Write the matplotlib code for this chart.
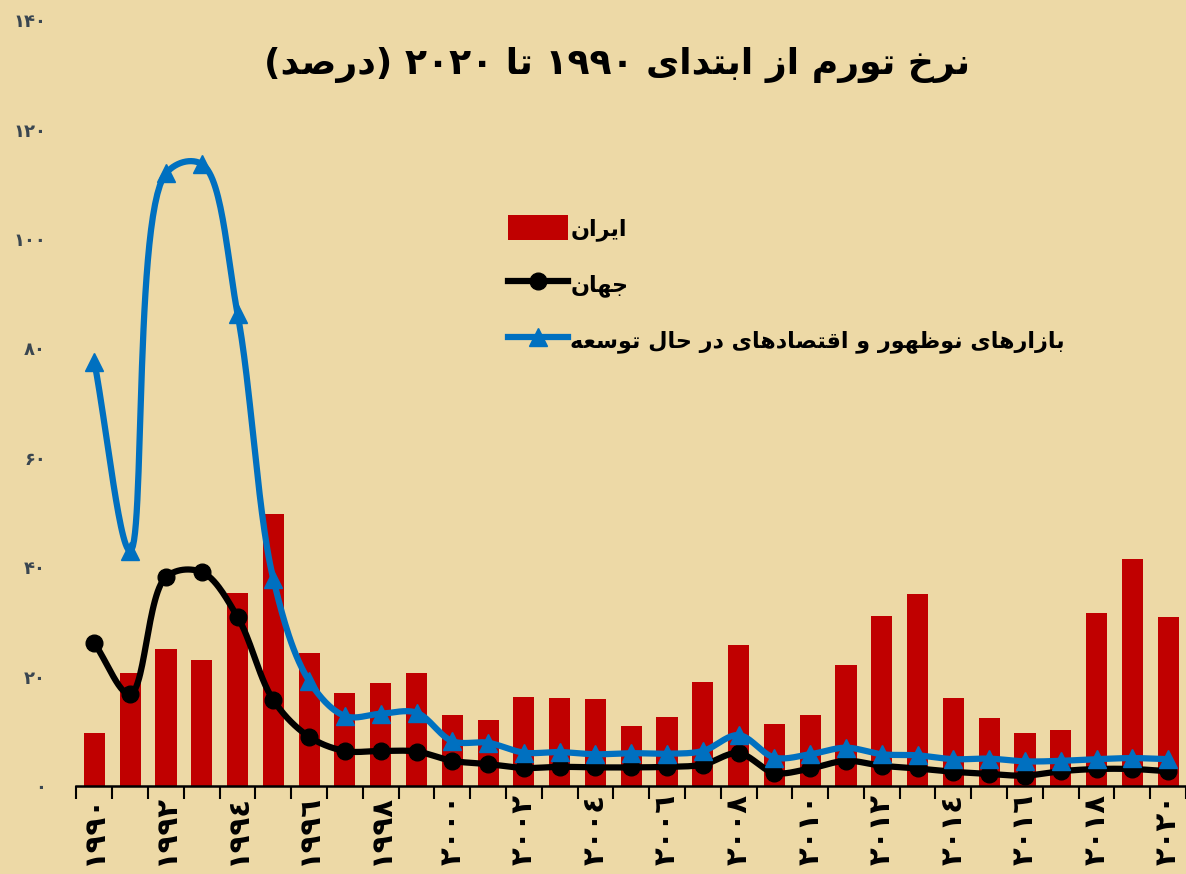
import re
import numpy as np
import matplotlib
matplotlib.use("Agg")
import matplotlib.pyplot as plt
from matplotlib.patches import Patch
from matplotlib.lines import Line2D

# data
years = list(range(1990, 2021))
iran = [9.7, 20.7, 25.0, 23.0, 35.3, 49.7, 24.3, 17.0, 18.8, 20.7,
        13.0, 12.1, 16.3, 16.1, 15.9, 11.0, 12.6, 19.0, 25.8, 11.3,
        12.9, 22.1, 31.0, 35.1, 16.1, 12.4, 9.7, 10.3, 31.6, 41.5, 30.9]
world = [26.1, 16.8, 38.2, 39.1, 30.9, 15.7, 9.0, 6.4, 6.4, 6.3,
         4.6, 4.0, 3.3, 3.5, 3.4, 3.4, 3.5, 3.9, 6.0, 2.4,
         3.2, 4.6, 3.7, 3.2, 2.6, 2.2, 1.9, 2.7, 3.1, 3.1, 2.7]
emerging = [77.5, 43.0, 112.0, 113.7, 86.3, 37.8, 19.2, 12.8, 13.2, 13.4,
            8.2, 7.9, 6.1, 6.2, 5.8, 6.0, 5.9, 6.4, 9.3, 5.2,
            5.8, 7.0, 5.8, 5.6, 4.9, 5.0, 4.5, 4.6, 4.9, 5.1, 4.9]
yticks = [0, 20, 40, 60, 80, 100, 120, 140]

title = "نرخ تورم از ابتدای ۱۹۹۰ تا ۲۰۲۰ (درصد)"
names = ["ایران", "جهان", "بازارهای نوظهور و اقتصادهای در حال توسعه"]

# presentation forms: isolated, final, initial, medial
FORMS = {
    'ا': ('\uFE8D', '\uFE8E', None, None),
    'ب': ('\uFE8F', '\uFE90', '\uFE91', '\uFE92'),
    'ت': ('\uFE95', '\uFE96', '\uFE97', '\uFE98'),
    'ج': ('\uFE9D', '\uFE9E', '\uFE9F', '\uFEA0'),
    'ح': ('\uFEA1', '\uFEA2', '\uFEA3', '\uFEA4'),
    'خ': ('\uFEA5', '\uFEA6', '\uFEA7', '\uFEA8'),
    'د': ('\uFEA9', '\uFEAA', None, None),
    'ر': ('\uFEAD', '\uFEAE', None, None),
    'ز': ('\uFEAF', '\uFEB0', None, None),
    'س': ('\uFEB1', '\uFEB2', '\uFEB3', '\uFEB4'),
    'ص': ('\uFEB9', '\uFEBA', '\uFEBB', '\uFEBC'),
    'ظ': ('\uFEC5', '\uFEC6', '\uFEC7', '\uFEC8'),
    'ع': ('\uFEC9', '\uFECA', '\uFECB', '\uFECC'),
    'ق': ('\uFED5', '\uFED6', '\uFED7', '\uFED8'),
    'ل': ('\uFEDD', '\uFEDE', '\uFEDF', '\uFEE0'),
    'م': ('\uFEE1', '\uFEE2', '\uFEE3', '\uFEE4'),
    'ن': ('\uFEE5', '\uFEE6', '\uFEE7', '\uFEE8'),
    'ه': ('\uFEE9', '\uFEEA', '\uFEEB', '\uFEEC'),
    'و': ('\uFEED', '\uFEEE', None, None),
    'ی': ('\uFEEF', '\uFEF0', '\uFEF3', '\uFEF4'),
}


def fa(s):
    # minimal shaping + right-to-left ordering for matplotlib
    out = []
    for i, c in enumerate(s):
        if c not in FORMS:
            out.append(c)
            continue
        f = FORMS[c]
        prev = s[i - 1] if i > 0 else ''
        nxt = s[i + 1] if i + 1 < len(s) else ''
        jp = prev in FORMS and FORMS[prev][2] is not None
        jn = nxt in FORMS and f[2] is not None
        if jp and jn:
            out.append(f[3])
        elif jp:
            out.append(f[1])
        elif jn:
            out.append(f[2])
        else:
            out.append(f[0])
    vis = ''.join(out)[::-1]
    vis = re.sub(r'[0-9\u06F0-\u06F9\u0660-\u0669]+', lambda m: m.group(0)[::-1], vis)
    return vis.translate(str.maketrans('()', ')('))


def fa_num(n, digits='۰۱۲۳۴۵۶۷۸۹'):
    return ''.join(digits[int(d)] for d in str(n))


def smooth(x, y, sx=35.9, sy=5.47, n=30):
    # centripetal Catmull-Rom in pixel space, close to Excel's smoothed line
    p = np.column_stack([np.asarray(x) * sx, np.asarray(y) * sy]).astype(float)
    p = np.vstack([2 * p[0] - p[1], p, 2 * p[-1] - p[-2]])
    segs = []
    for i in range(1, len(p) - 2):
        p0, p1, p2, p3 = p[i - 1], p[i], p[i + 1], p[i + 2]
        t0 = 0.0
        t1 = t0 + np.linalg.norm(p1 - p0) ** 0.5
        t2 = t1 + np.linalg.norm(p2 - p1) ** 0.5
        t3 = t2 + np.linalg.norm(p3 - p2) ** 0.5
        t = np.linspace(t1, t2, n)[:, None]
        a1 = (t1 - t) / (t1 - t0) * p0 + (t - t0) / (t1 - t0) * p1
        a2 = (t2 - t) / (t2 - t1) * p1 + (t - t1) / (t2 - t1) * p2
        a3 = (t3 - t) / (t3 - t2) * p2 + (t - t2) / (t3 - t2) * p3
        b1 = (t2 - t) / (t2 - t0) * a1 + (t - t0) / (t2 - t0) * a2
        b2 = (t3 - t) / (t3 - t1) * a2 + (t - t1) / (t3 - t1) * a3
        segs.append((t2 - t) / (t2 - t1) * b1 + (t - t1) / (t2 - t1) * b2)
    c = np.vstack(segs)
    return c[:, 0] / sx, c[:, 1] / sy


plt.rcParams['font.family'] = ['DejaVu Sans']
bg = '#EDD9A6'
red = '#C00000'
blue = '#0070C0'

fig = plt.figure(figsize=(11.86, 8.74), dpi=100, facecolor=bg)
ax = fig.add_axes([0.0645, 0.1007, 0.9355, 0.8763], facecolor=bg)

x = np.arange(len(years))
ax.bar(x, iran, width=0.59, color=red, zorder=2)

sx, sy = smooth(x, world)
ax.plot(sx, sy, color='black', lw=4.5, zorder=3, solid_capstyle='round')
ax.plot(x, world, 'o', color='black', ms=12, zorder=3)

sx, sy = smooth(x, emerging)
ax.plot(sx, sy, color=blue, lw=4.5, zorder=4, solid_capstyle='round')
ax.plot(x, emerging, '^', color=blue, ms=13, zorder=4)

ax.set_xlim(-0.5, len(years) - 0.5)
ax.set_ylim(0, 140)
for s in ['top', 'right', 'left']:
    ax.spines[s].set_visible(False)
ax.spines['bottom'].set_linewidth(1.8)

ax.set_yticks(yticks)
ax.set_yticklabels([fa_num(v) for v in yticks], fontsize=13, fontweight='bold', color='#3A4650')
ax.tick_params(axis='y', length=0, pad=22)

ax.set_xticks(x[::2])
ax.set_xticklabels([fa_num(y, '٠١٢٣٤٥٦٧٨٩') for y in years[::2]],
                   rotation=90, fontsize=21, fontweight='bold', va='top')
ax.tick_params(axis='x', length=0, pad=6)
ax.set_xticks(np.arange(-0.5, len(years), 1), minor=True)
ax.tick_params(axis='x', which='minor', length=9, width=1.5, direction='out')

fig.text(0.52, 0.926, fa(title), ha='center', va='center', fontsize=26, fontweight='bold')

handles = [Patch(facecolor=red),
           Line2D([], [], color='black', lw=4.5, marker='o', ms=12),
           Line2D([], [], color=blue, lw=4.5, marker='^', ms=13)]
fig.legend(handles, [fa(n) for n in names], loc='upper left', bbox_to_anchor=(0.419, 0.767),
           frameon=False, handlelength=2.7, handleheight=1.4,
           handletextpad=0.1, labelspacing=1.35, borderpad=0,
           prop={'weight': 'bold', 'size': 16})

fig.savefig('out.png', dpi=100, facecolor=bg)
